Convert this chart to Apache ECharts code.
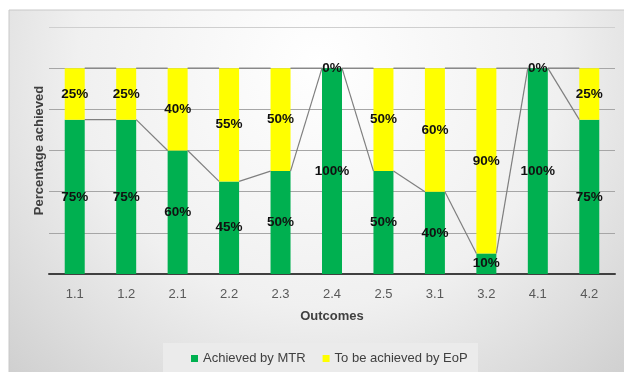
<!DOCTYPE html>
<html><head><meta charset="utf-8">
<script src="https://cdn.jsdelivr.net/npm/echarts@6/dist/echarts.min.js"></script>
<style>html,body{margin:0;padding:0;background:#fff}#c{width:624px;height:372px}</style>
</head><body><div id="c"></div>
<script>
const categories = ['1.1','1.2','2.1','2.2','2.3','2.4','2.5','3.1','3.2','4.1','4.2'];
const achieved = [75,75,60,45,50,100,50,40,10,100,75];
const toBeAchieved = [25,25,40,55,50,0,50,60,90,0,25];
const seriesNames = ['Achieved by MTR','To be achieved by EoP'];
const yTicks = [0,20,40,60,80,100,120];

const BAR_W = 20;
const chart = echarts.init(document.getElementById('c'), null, {renderer:'canvas'});

const totals = achieved.map((v,i)=>v+toBeAchieved[i]);
function seriesLineData(vals){
  const d=[];
  for(let i=0;i<vals.length-1;i++) d.push([i, vals[i], vals[i+1]]);
  return d;
}
function renderSeriesLine(params, api){
  const i = api.value(0);
  const p1 = api.coord([i, api.value(1)]);
  const p2 = api.coord([i+1, api.value(2)]);
  return {type:'line', shape:{x1:p1[0]+BAR_W/2, y1:p1[1], x2:p2[0]-BAR_W/2, y2:p2[1]},
    style:{stroke:'#7f7f7f', lineWidth:1.2}, silent:true};
}
const labelStyle = {show:true, position:'inside', color:'#111', fontWeight:'bold', fontSize:13.5,
  fontFamily:'Liberation Sans', formatter: p=>p.value+'%'};

chart.setOption({
  animation:false,
  textStyle:{fontFamily:'Liberation Sans'},
  graphic:[
    {type:'rect', shape:{x:9,y:10,width:620,height:370}, z:-10,
     style:{fill:{type:'radial', x:0.5, y:0.15, r:1.3, colorStops:[
        {offset:0,color:'#ffffff'},{offset:0.5,color:'#f0f0f0'},{offset:1,color:'#c8c8c8'}]},
        stroke:'#c8c8c8', lineWidth:1}},
    {type:'rect', shape:{x:163,y:343,width:315,height:30}, z:-5,
     style:{fill:'#ebebeb'}}
  ],
  grid:{left:49, right:9, top:27, bottom:98, containLabel:false},
  legend:{left:186, top:347, itemWidth:7, itemHeight:7, itemGap:17, icon:'rect',
    textStyle:{color:'#404040', fontSize:13, fontFamily:'Liberation Sans'},
    data:seriesNames},
  xAxis:{type:'category', data:categories,
    name:'Outcomes', nameLocation:'middle', nameGap:36,
    nameTextStyle:{color:'#404040', fontWeight:'bold', fontSize:13, fontFamily:'Liberation Sans'},
    axisLine:{lineStyle:{color:'#404040', width:2}}, axisTick:{show:false},
    axisLabel:{color:'#595959', fontSize:13, margin:14}},
  yAxis:{type:'value', min:yTicks[0], max:yTicks[yTicks.length-1], interval:20,
    name:'Percentage achieved', nameLocation:'middle', nameGap:3,
    nameTextStyle:{color:'#404040', fontWeight:'bold', fontSize:13, fontFamily:'Liberation Sans'},
    axisLabel:{show:false}, axisLine:{show:false}, axisTick:{show:false},
    splitLine:{lineStyle:{color:['#a6a6a6','#a6a6a6','#a6a6a6','#a6a6a6','#a6a6a6','#a6a6a6','#cfcfcf'], width:1}}},
  series:[
    {name:seriesNames[0], type:'bar', stack:'s', data:achieved, barWidth:BAR_W,
     itemStyle:{color:'#00B050'}, label:labelStyle, z:3},
    {name:seriesNames[1], type:'bar', stack:'s', data:toBeAchieved, barWidth:BAR_W,
     itemStyle:{color:'#FFFF00'}, label:labelStyle, z:3},
    {type:'custom', renderItem:renderSeriesLine, data:seriesLineData(achieved), z:4, silent:true, tooltip:{show:false}},
    {type:'custom', renderItem:renderSeriesLine, data:seriesLineData(totals), z:4, silent:true, tooltip:{show:false}}
  ]
});
</script></body></html>
